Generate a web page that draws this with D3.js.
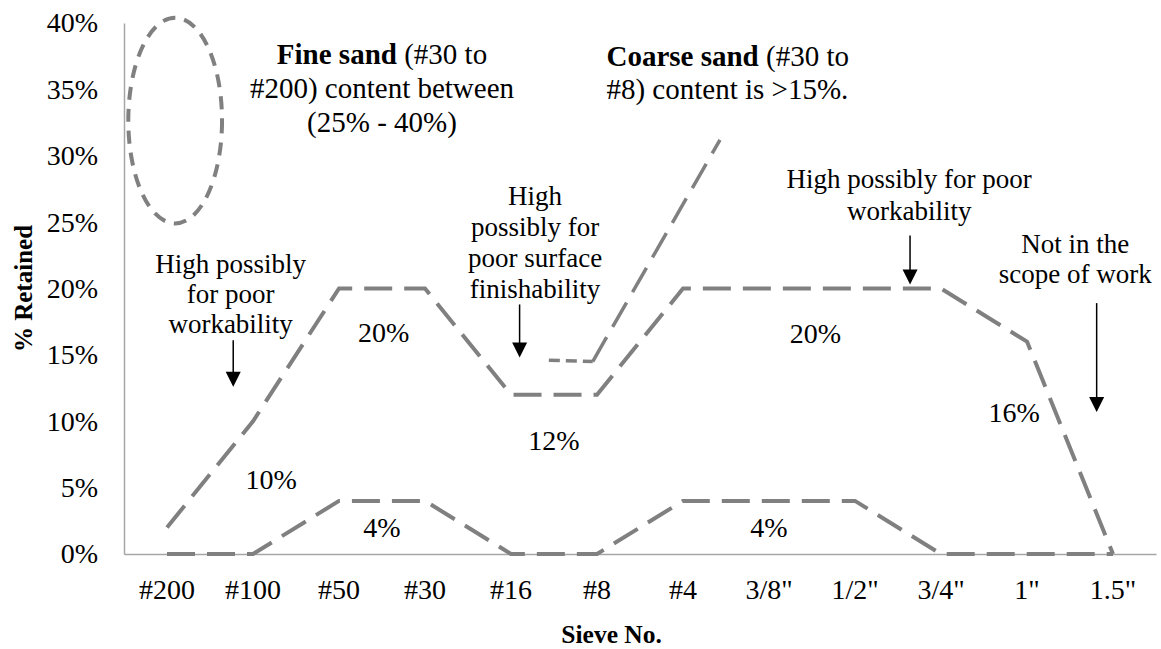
<!DOCTYPE html>
<html>
<head>
<meta charset="utf-8">
<script src="https://cdn.jsdelivr.net/npm/d3@7"></script>
<style>
  body { margin: 0; background: #fff; }
</style>
</head>
<body>
<div id="chart"></div>
<script>
// sieve sizes along the x axis
const sieves = ["#200", "#100", "#50", "#30", "#16", "#8", "#4", "3/8\"", "1/2\"", "3/4\"", "1\"", "1.5\""];
// upper and lower bounds of % retained
const upperLimit = [2, 10, 20, 20, 12, 12, 20, 20, 20, 20, 16, 0];
const lowerLimit = [0, 0, 4, 4, 0, 0, 4, 4, 4, 0, 0, 0];
const yTicks = [0, 5, 10, 15, 20, 25, 30, 35, 40];

// coarse sand marker line (fractional sieve index, % retained)
const coarseFlat = [{ pos: 4.44, v: 14.6 }, { pos: 4.95, v: 14.5 }];
const coarseRise = [{ pos: 4.95, v: 14.5 }, { pos: 6.43, v: 31.2 }];
// fine sand ellipse extent
const fineEllipse = { from: -0.45, to: 0.64, low: 24.9, high: 40.4 };

// value labels on the envelope
const valueLabels = [
  { text: "20%", pos: 2.52, v: 16.7 },
  { text: "10%", pos: 1.21, v: 5.6 },
  { text: "4%", pos: 2.5, v: 2.0 },
  { text: "12%", pos: 4.5, v: 8.6 },
  { text: "20%", pos: 7.54, v: 16.6 },
  { text: "4%", pos: 7.0, v: 2.0 },
  { text: "16%", pos: 9.85, v: 10.7 },
];

// annotation texts, anchored at (pos, v) of the first line
const notes = [
  { lines: [["Fine sand", " (#30 to"], ["", "#200) content between"], ["", "(25% - 40%)"]], pos: 2.5, v: 37.7, gap: 34, anchor: "middle", size: 29 },
  { lines: [["Coarse sand", " (#30 to"], ["", "#8) content is >15%."]], pos: 5.11, v: 37.5, gap: 33, anchor: "start", size: 29 },
  { lines: [["", "High possibly"], ["", "for poor"], ["", "workability"]], pos: 0.74, v: 21.9, gap: 30, anchor: "middle", size: 27 },
  { lines: [["", "High"], ["", "possibly for"], ["", "poor surface"], ["", "finishability"]], pos: 4.28, v: 27.0, gap: 31, anchor: "middle", size: 27 },
  { lines: [["", "High possibly for poor"], ["", "workability"]], pos: 8.63, v: 28.3, gap: 32, anchor: "middle", size: 27 },
  { lines: [["", "Not in the"], ["", "scope of work"]], pos: 10.56, v: 23.4, gap: 30, anchor: "middle", size: 27 },
];

// arrows: sieve index, start and tip in %
const arrows = [
  { pos: 0.77, from: 16.1, to: 12.6 },
  { pos: 4.1, from: 18.8, to: 14.8 },
  { pos: 8.64, from: 24.0, to: 20.3 },
  { pos: 10.81, from: 18.9, to: 10.7 },
];

const W = 1161, H = 649;
const margin = { top: 23, right: 5, bottom: 95, left: 124 };
const serif = "'Liberation Serif', 'Times New Roman', 'Tinos'";

const svg = d3.select("#chart").append("svg").attr("width", W).attr("height", H);

const x = d3.scaleBand().domain(sieves).range([margin.left, W - margin.right]).padding(0);
const half = x.bandwidth() / 2;
const xPos = d3.scaleLinear()
  .domain([0, sieves.length - 1])
  .range([x(sieves[0]) + half, x(sieves[sieves.length - 1]) + half]);
const y = d3.scaleLinear().domain([0, 40]).range([H - margin.bottom, margin.top]);

const lineColor = "#808080";

// axes
const yAxis = svg.append("g")
  .attr("transform", `translate(${margin.left},0)`)
  .call(d3.axisLeft(y).tickValues(yTicks).tickSize(0).tickPadding(26).tickFormat((d) => d + "%"));
const xAxis = svg.append("g")
  .attr("transform", `translate(0,${y(0)})`)
  .call(d3.axisBottom(x).tickSize(0).tickPadding(25));

[yAxis, xAxis].forEach((a) => {
  a.select(".domain").attr("stroke", "#a6a6a6").attr("stroke-width", 1.5);
  a.selectAll("text").attr("fill", "#000")
    .style("font-family", serif).style("font-size", "28px");
});

svg.append("text")
  .attr("transform", `translate(32,${(y(0) + y(40)) / 2}) rotate(-90)`)
  .attr("text-anchor", "middle")
  .style("font-family", serif).style("font-size", "25px").style("font-weight", "bold")
  .text("% Retained");

svg.append("text")
  .attr("x", xPos(5.17))
  .attr("y", 643)
  .attr("text-anchor", "middle")
  .style("font-family", serif).style("font-size", "25.5px").style("font-weight", "bold")
  .text("Sieve No.");

// envelope lines
const line = d3.line().x((d, i) => xPos(i)).y((d) => y(d));
[upperLimit, lowerLimit].forEach((series) => {
  svg.append("path")
    .datum(series)
    .attr("d", line)
    .attr("fill", "none")
    .attr("stroke", lineColor)
    .attr("stroke-width", 4)
    .attr("stroke-dasharray", "28,12");
});

// coarse sand marker
const freeLine = d3.line().x((d) => xPos(d.pos)).y((d) => y(d.v));
svg.append("path").datum(coarseFlat).attr("d", freeLine)
  .attr("fill", "none").attr("stroke", lineColor).attr("stroke-width", 3.5)
  .attr("stroke-dasharray", "11,6");
svg.append("path").datum(coarseRise).attr("d", freeLine)
  .attr("fill", "none").attr("stroke", lineColor).attr("stroke-width", 3.5)
  .attr("stroke-dasharray", "28,12");

// fine sand ellipse
svg.append("ellipse")
  .attr("cx", (xPos(fineEllipse.from) + xPos(fineEllipse.to)) / 2)
  .attr("cy", (y(fineEllipse.low) + y(fineEllipse.high)) / 2)
  .attr("rx", (xPos(fineEllipse.to) - xPos(fineEllipse.from)) / 2)
  .attr("ry", (y(fineEllipse.low) - y(fineEllipse.high)) / 2)
  .attr("fill", "none")
  .attr("stroke", lineColor)
  .attr("stroke-width", 4)
  .attr("stroke-dasharray", "13,9");

// value labels
svg.selectAll(".vlabel")
  .data(valueLabels)
  .enter()
  .append("text")
  .attr("class", "vlabel")
  .attr("x", (d) => xPos(d.pos))
  .attr("y", (d) => y(d.v))
  .attr("dy", "0.35em")
  .attr("text-anchor", "middle")
  .style("font-family", serif)
  .style("font-size", "28px")
  .text((d) => d.text);

// annotation blocks
notes.forEach((n) => {
  n.lines.forEach((parts, i) => {
    const t = svg.append("text")
      .attr("x", xPos(n.pos))
      .attr("y", y(n.v) + i * n.gap)
      .attr("dy", "0.35em")
      .attr("text-anchor", n.anchor)
      .style("font-family", serif)
      .style("font-size", n.size + "px");
    if (parts[0]) t.append("tspan").style("font-weight", "bold").text(parts[0]);
    t.append("tspan").text(parts[1]);
  });
});

// arrows
arrows.forEach((a) => {
  const ax = xPos(a.pos);
  const tip = y(a.to);
  svg.append("line")
    .attr("x1", ax).attr("x2", ax)
    .attr("y1", y(a.from)).attr("y2", tip - 12)
    .attr("stroke", "#000").attr("stroke-width", 1.5);
  svg.append("path")
    .attr("d", `M${ax - 7.5},${tip - 15} L${ax + 7.5},${tip - 15} L${ax},${tip} Z`)
    .attr("fill", "#000");
});
</script>
</body>
</html>
